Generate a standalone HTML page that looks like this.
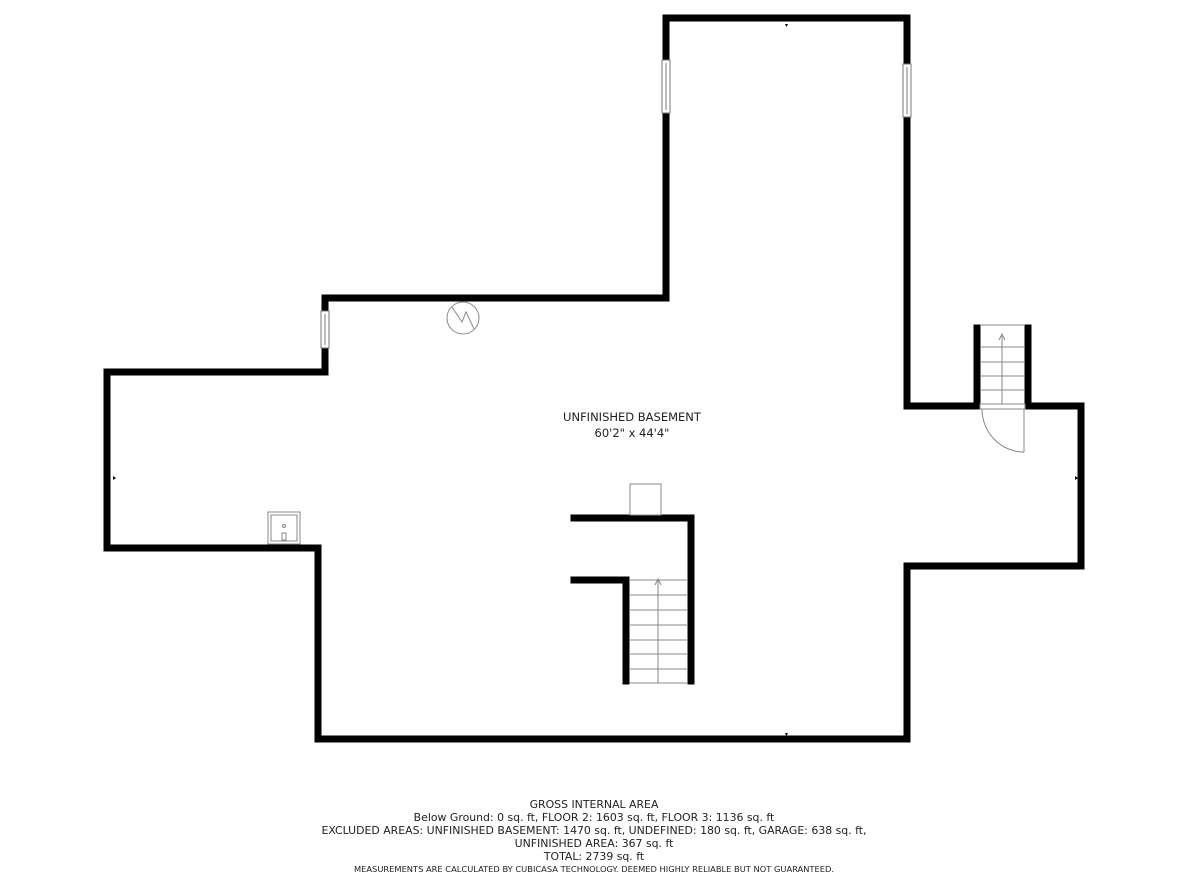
<!DOCTYPE html>
<html><head><style>
html,body{margin:0;padding:0;background:#fff;}
svg{display:block;}
text{font-family:"DejaVu Sans","Liberation Sans",sans-serif;fill:#222;}
</style></head><body>
<svg width="1188" height="888" viewBox="0 0 1188 888" xmlns="http://www.w3.org/2000/svg">
<rect width="1188" height="888" fill="#fff"/>
<g fill="none" stroke="#000" stroke-width="7" stroke-linejoin="miter" stroke-linecap="square">
<polyline points="977,406 907,406 907,18 666,18 666,298 325,298 325,372 107,372 107,548 318,548 318,739 907,739 907,566 1081,566 1081,406 1028,406"/>
<line x1="977" y1="406" x2="977" y2="328"/>
<line x1="1028" y1="406" x2="1028" y2="328"/>
<polyline points="574,518 691,518 691,681"/>
<polyline points="574,580 626,580 626,681"/>
</g>
<g fill="#fff" stroke="#777" stroke-width="1">
<rect x="662" y="60" width="8" height="53"/><line x1="666" y1="63" x2="666" y2="110"/>
<rect x="903" y="64" width="8" height="53"/><line x1="907" y1="67" x2="907" y2="114"/>
<rect x="321" y="311" width="8" height="37"/><line x1="325" y1="314" x2="325" y2="345"/>
</g>
<g stroke="#888" stroke-width="1" fill="none">
<line x1="629" y1="580" x2="688" y2="580"/>
<line x1="629" y1="595" x2="688" y2="595"/>
<line x1="629" y1="610" x2="688" y2="610"/>
<line x1="629" y1="625" x2="688" y2="625"/>
<line x1="629" y1="640" x2="688" y2="640"/>
<line x1="629" y1="654" x2="688" y2="654"/>
<line x1="629" y1="669" x2="688" y2="669"/>
<line x1="629" y1="683" x2="688" y2="683"/>
<line x1="658" y1="580" x2="658" y2="683"/>
<polyline points="655,585 658,579 661,585"/>
<rect x="630" y="484" width="31" height="31"/>
<line x1="980" y1="325" x2="1025" y2="325"/>
<line x1="980" y1="347" x2="1025" y2="347"/>
<line x1="980" y1="362" x2="1025" y2="362"/>
<line x1="980" y1="376" x2="1025" y2="376"/>
<line x1="980" y1="390" x2="1025" y2="390"/>
<line x1="980" y1="404" x2="1025" y2="404"/>
<line x1="1002" y1="336" x2="1002" y2="404"/>
<polyline points="999,340 1002,334 1005,340"/>
<rect x="980" y="404" width="45" height="5"/>
<line x1="1024" y1="409" x2="1024" y2="452"/>
<path d="M982,409 A42,43 0 0 0 1024,452"/>
<rect x="268" y="512" width="32" height="32"/>
<rect x="271" y="515" width="26" height="26"/>
<circle cx="284" cy="526" r="1.5"/>
<rect x="282" y="533" width="4" height="7"/>
<circle cx="463" cy="318" r="16"/>
<polyline points="452,307 462,322 466,312 474,329"/>
</g>
<g fill="#000">
<polygon points="785,24 788,24 786.5,27"/>
<polygon points="785,733 788,733 786.5,736"/>
<polygon points="113,476 113,480 116,478"/>
<polygon points="1075,476 1075,480 1078,478"/>
</g>
<text x="632" y="421" font-size="11.5" text-anchor="middle">UNFINISHED BASEMENT</text>
<text x="632" y="437" font-size="11.5" text-anchor="middle">60'2" x 44'4"</text>
<g font-size="10.9" text-anchor="middle">
<text x="594" y="808">GROSS INTERNAL AREA</text>
<text x="594" y="821">Below Ground: 0 sq. ft, FLOOR 2: 1603 sq. ft, FLOOR 3: 1136 sq. ft</text>
<text x="594" y="834">EXCLUDED AREAS: UNFINISHED BASEMENT: 1470 sq. ft, UNDEFINED: 180 sq. ft, GARAGE: 638 sq. ft,</text>
<text x="594" y="847">UNFINISHED AREA: 367 sq. ft</text>
<text x="594" y="860">TOTAL: 2739 sq. ft</text>
</g>
<text x="594" y="872" font-size="8.3" text-anchor="middle">MEASUREMENTS ARE CALCULATED BY CUBICASA TECHNOLOGY. DEEMED HIGHLY RELIABLE BUT NOT GUARANTEED.</text>
</svg>
</body></html>
